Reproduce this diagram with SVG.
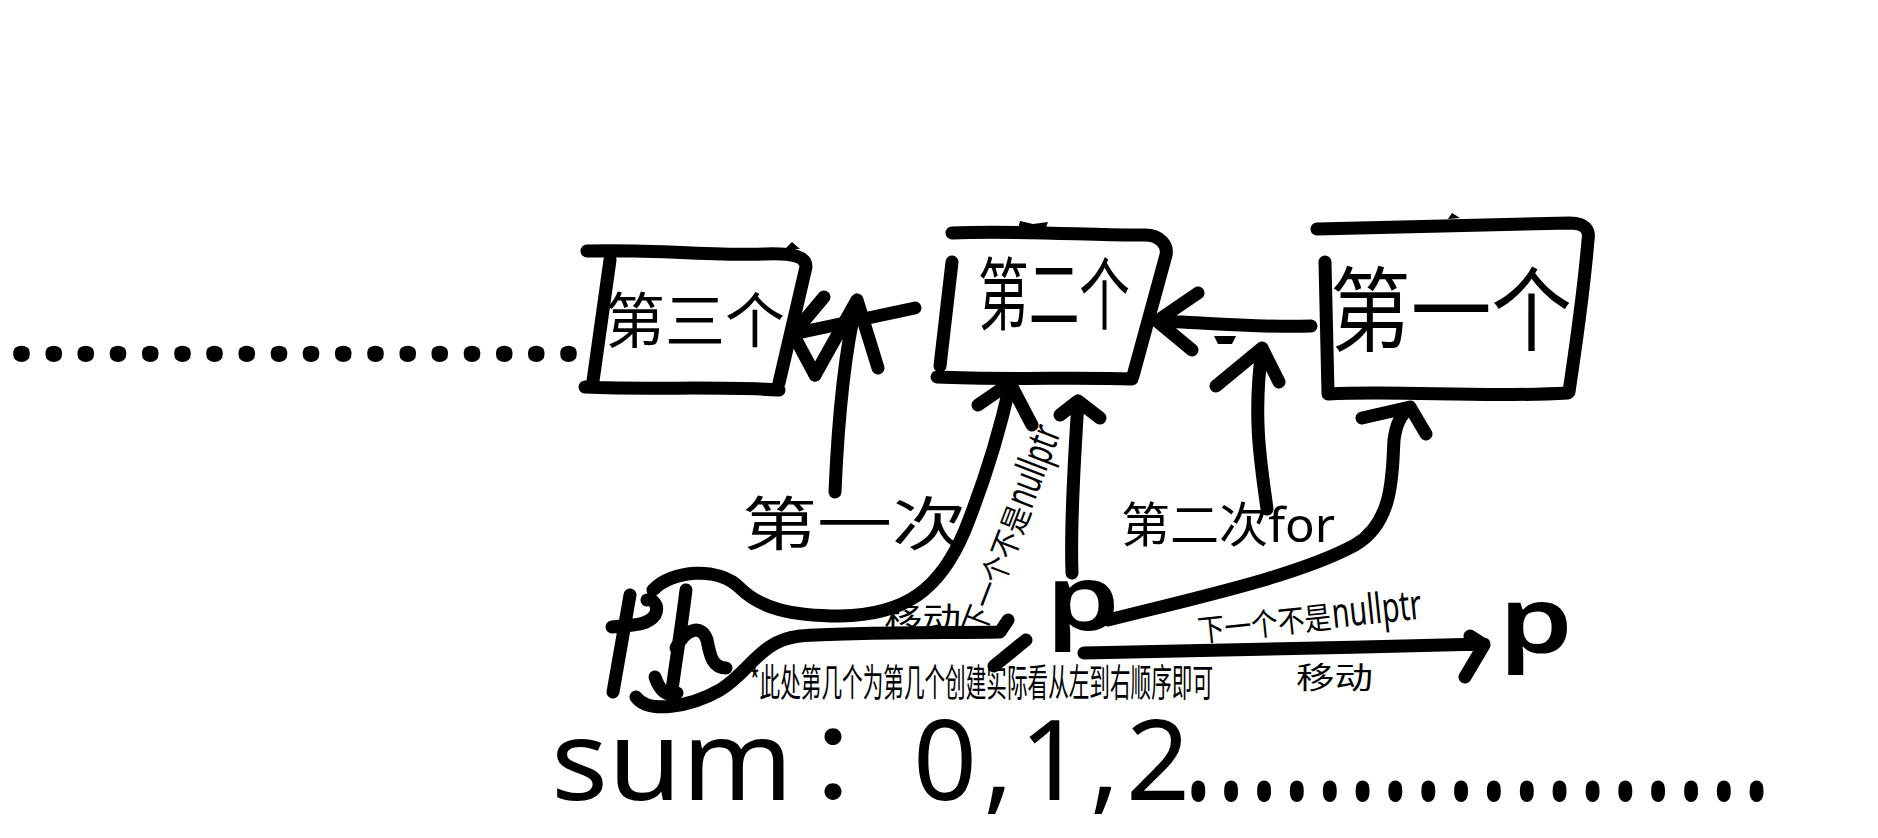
<svg xmlns="http://www.w3.org/2000/svg" width="1878" height="838" viewBox="0 0 1878 838">
<style>
.s{fill:none;stroke:#000;stroke-width:13;stroke-linecap:round;stroke-linejoin:round}
.t{font-family:"Noto Sans","Noto Sans CJK SC",sans-serif;fill:#000}
.c{font-family:"Noto Sans CJK SC","Noto Sans",sans-serif;fill:#000}
.m{fill:#000;stroke:none}
</style>
<rect width="1878" height="838" fill="#fff"/>

<g id="dots-left">
<text class="t" x="8" y="361" font-size="96" font-weight="700" textLength="574" lengthAdjust="spacing">..................</text>
</g>

<g id="node-third">
<path class="s" d="M587,251 C650,249 720,256 765,254 C795,253 806,257 806,267 M806,267 L779,383 M585,387 C650,390 720,386 779,390 M610,260 L593,381"/>
<polygon class="m" points="785,249 792,242 800,249"/>
<text class="c" x="605" y="343" font-size="60" textLength="180" lengthAdjust="spacingAndGlyphs">第三个</text>
</g>

<g id="node-second">
<path class="s" d="M952,233 C1020,230 1100,236 1145,235 C1160,235 1168,245 1166,255 M1166,255 L1133,376 M937,377 C1000,380 1080,377 1132,379 M952,262 L940,366"/>
<polygon class="m" points="1018,229 1020,221 1033,224 1048,222 1045,230"/>
<text class="c" x="978" y="324" font-size="79" textLength="152" lengthAdjust="spacingAndGlyphs">第二个</text>
</g>

<g id="node-first">
<path class="s" d="M1317,229 C1400,227 1500,225 1570,223 C1585,223 1590,230 1588,240 M1588,240 C1583,300 1575,350 1569,392 M1325,262 L1328,393 M1328,394 C1400,390 1480,398 1568,393"/>
<polygon class="m" points="1448,219 1452,213 1460,218"/>
<text class="c" x="1330" y="344" font-size="92" textLength="242" lengthAdjust="spacingAndGlyphs">第一个</text>
</g>

<g id="node-th">
<path class="s" d="M630,595 L613,692 M612,627 C630,625 648,626 655,615 C660,605 652,598 647,600 M686,590 C681,630 676,660 672,690 M676,648 C686,628 702,624 707,640 C710,655 712,668 726,668 M655,677 C660,692 668,697 677,693"/>
</g>

<g id="node-p1">
<text class="t" x="1046" y="630" font-size="90" font-weight="600" textLength="74" lengthAdjust="spacingAndGlyphs">p</text>
</g>

<g id="node-p2">
<text class="t" x="1499" y="653" font-size="92" font-weight="600" textLength="74" lengthAdjust="spacingAndGlyphs">p</text>
</g>

<g id="connectors">
<path class="s" d="M915,308 L793,334 M824,297 L793,334 L815,375"/>
<path class="s" d="M835,492 C838,420 845,350 857,300 M815,375 L857,300 L878,368"/>
<path class="s" d="M1311,326 C1250,328 1200,322 1157,321 M1198,293 L1157,321 L1192,350"/>
<polygon class="m" points="1214,336 1236,336 1232,344 1218,344"/>
<path class="s" d="M1267,509 C1262,470 1252,420 1262,350 M1216,386 L1262,348 L1279,382"/>
<path class="s" d="M1108,620 C1200,597 1300,575 1355,545 C1395,522 1392,470 1394,440 C1396,425 1400,415 1410,408 M1362,418 L1410,407 L1426,434"/>
<path class="s" d="M1072,573 C1070,520 1075,450 1078,402 M1060,415 L1078,401 L1100,418"/>
<path class="s" d="M653,590 C672,570 718,566 740,588 C760,608 790,616 840,616 C905,615 940,590 965,530 C985,480 1000,430 1010,385 M978,405 L1010,383 L1032,425"/>
<path class="s" d="M636,697 C648,714 690,707 720,690 C750,672 760,640 800,636 C850,632 950,633 1000,632 L1008,620 M994,666 L1026,640"/>
<path class="s" d="M1084,653 C1200,650 1350,648 1484,644 M1470,636 L1484,645 L1465,677"/>
</g>

<g id="labels">
<text class="c" x="742" y="545" font-size="58" textLength="225" lengthAdjust="spacingAndGlyphs">第一次</text>
<text class="t" x="1121" y="542" font-size="48" textLength="214" lengthAdjust="spacingAndGlyphs">第二次for</text>
<text class="c" x="884" y="630" font-size="32" textLength="77" lengthAdjust="spacingAndGlyphs">移动</text>
<text class="c" x="1296" y="688" font-size="30" textLength="77" lengthAdjust="spacingAndGlyphs">移动</text>
<g transform="translate(983,636) rotate(-69)">
<text class="c" x="0" y="0" font-size="31" textLength="134" lengthAdjust="spacingAndGlyphs">下一个不是</text>
<text class="t" x="135" y="0" font-size="42" textLength="84" lengthAdjust="spacingAndGlyphs">nullptr</text>
</g>
<g transform="translate(1199,642) rotate(-6)">
<text class="c" x="0" y="0" font-size="31" textLength="134" lengthAdjust="spacingAndGlyphs">下一个不是</text>
<text class="t" x="135" y="0" font-size="42" textLength="90" lengthAdjust="spacingAndGlyphs">nullptr</text>
</g>
<text class="c" x="750" y="696" font-size="38" textLength="463" lengthAdjust="spacingAndGlyphs">*此处第几个为第几个创建实际看从左到右顺序即可</text>
</g>

<g id="sum">
<text class="t" x="551" y="800" font-size="112" textLength="242" lengthAdjust="spacingAndGlyphs">sum</text>
<text class="c" x="805" y="800" font-size="112">：</text>
<text class="t" x="913" y="800" font-size="112" textLength="277" lengthAdjust="spacing">0,1,2</text>
<g transform="translate(1187,800) scale(0.72,1.15)">
<text class="t" x="0" y="0" font-size="112" font-weight="700" textLength="807" lengthAdjust="spacing">..................</text>
</g>
</g>
</svg>
